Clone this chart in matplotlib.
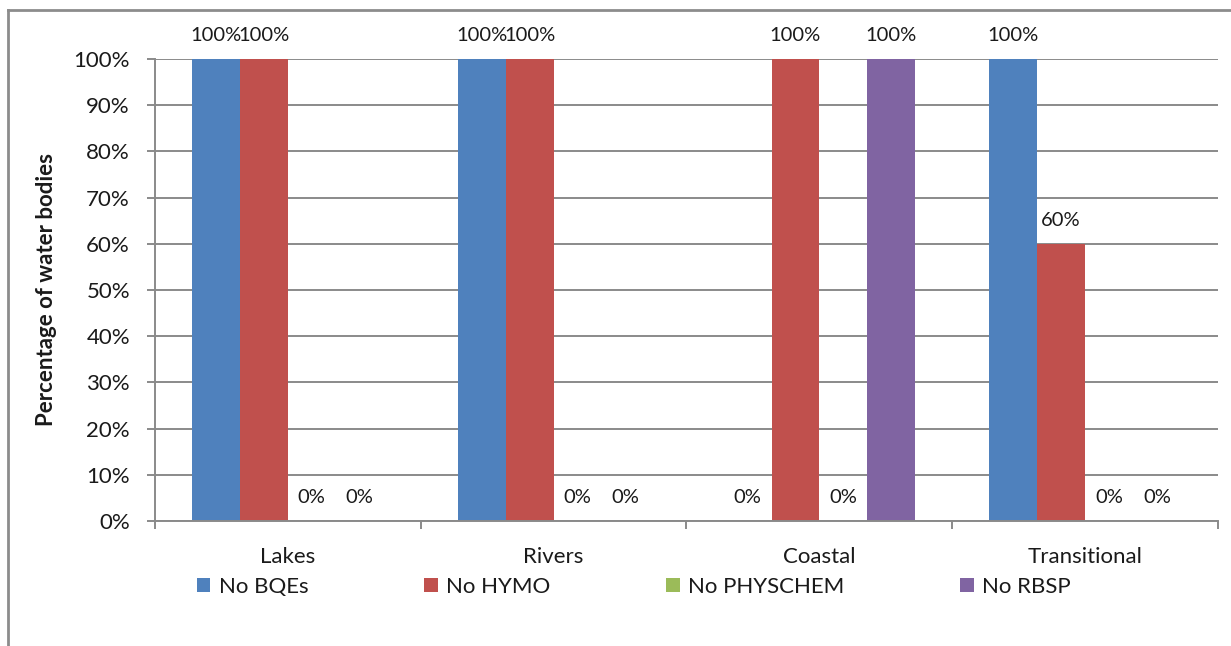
import matplotlib

matplotlib.use("Agg")
import matplotlib.pyplot as plt
from matplotlib.lines import Line2D
from matplotlib.ticker import FuncFormatter, MultipleLocator
import numpy as np

plt.rcParams["font.family"] = ["Lato", "DejaVu Sans"]

CATEGORIES = ["Lakes", "Rivers", "Coastal", "Transitional"]
SERIES = ["No BQEs", "No HYMO", "No PHYSCHEM", "No RBSP"]
NO_BQES = [100, 100, 0, 100]
NO_HYMO = [100, 100, 100, 60]
NO_PHYSCHEM = [0, 0, 0, 0]
NO_RBSP = [0, 0, 100, 0]

COLORS = ["#4F81BD", "#C0504D", "#9BBB59", "#8064A2"]
INK = "#1a1a1a"
GRID = "#8a8a8a"
FS = 16

fig = plt.figure(figsize=(12.31, 6.46), dpi=100)
ax = fig.add_axes([0.1259, 0.1935, 0.8635, 0.7152])

x = np.arange(len(CATEGORIES))
width = 0.18
values = [NO_BQES, NO_HYMO, NO_PHYSCHEM, NO_RBSP]
for i, (name, vals, color) in enumerate(zip(SERIES, values, COLORS)):
    bars = ax.bar(x + (i - 1.5) * width, vals, width, color=color, label=name,
                  zorder=3)
    ax.bar_label(bars, labels=[f"{v}%" for v in vals], padding=11,
                 fontsize=14.5, color=INK, zorder=4)

ax.set_xlim(-0.5, len(CATEGORIES) - 0.5)
ax.set_ylim(0, 100)
ax.yaxis.set_major_locator(MultipleLocator(10))
ax.yaxis.set_major_formatter(FuncFormatter(lambda v, _: f"{v:.0f}%"))
ax.yaxis.grid(True, color=GRID, linewidth=1.4, zorder=0)

# category labels sit between tick marks drawn at the group boundaries
ax.set_xticks(x)
ax.set_xticklabels(CATEGORIES)
ax.set_xticks(np.arange(len(CATEGORIES) + 1) - 0.5, minor=True)
ax.tick_params(axis="x", which="major", length=0, pad=19, labelsize=FS,
               labelcolor=INK)
ax.tick_params(axis="x", which="minor", length=6, width=1.4, color=GRID,
               direction="out")
ax.tick_params(axis="y", length=6, width=1.4, color=GRID, pad=12,
               labelsize=FS, labelcolor=INK)

for side in ("top", "right"):
    ax.spines[side].set_visible(False)
for side in ("left", "bottom"):
    ax.spines[side].set_color(GRID)
    ax.spines[side].set_linewidth(1.4)
    ax.spines[side].set_zorder(5)

ax.set_ylabel("Percentage of water bodies", fontsize=16, fontweight="bold",
              color=INK, labelpad=12)

fig.legend(loc="center", bbox_to_anchor=(0.515, 0.091), ncol=4, frameon=False,
           fontsize=FS, handlelength=0.6, handleheight=0.6, handletextpad=0.4,
           columnspacing=5.2, labelcolor=INK)

# outer chart frame (top and left edges)
frame = dict(color="#8c8c8c", linewidth=2, transform=fig.transFigure)
fig.add_artist(Line2D([8 / 1231, 1], [1 - 10 / 646] * 2, **frame))
fig.add_artist(Line2D([8 / 1231] * 2, [0, 1 - 10 / 646], **frame))

fig.savefig("out.png", dpi=100, facecolor="white")
